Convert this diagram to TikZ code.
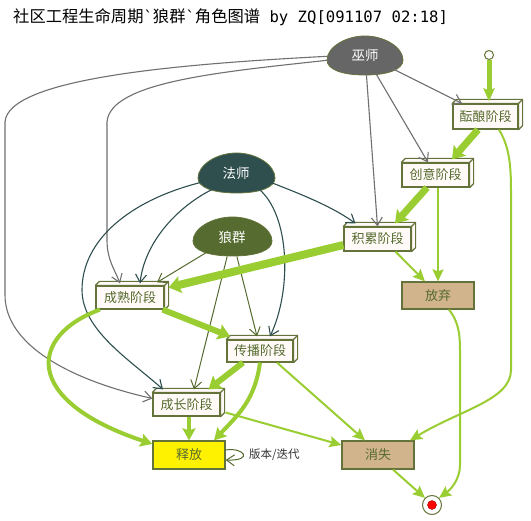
\documentclass[tikz,border=0pt]{standalone}
\usepackage{fontspec}
\newfontfamily\cjk{Noto Sans CJK SC}
\newfontfamily\mono{DejaVu Sans Mono}
\usetikzlibrary{arrows.meta,shapes.geometric,calc}
\definecolor{wgray}{HTML}{666666}
\definecolor{egray}{HTML}{707070}
\definecolor{slate}{HTML}{2F4F4F}
\definecolor{olivedk}{HTML}{556B2F}
\definecolor{boxline}{HTML}{637339}
\definecolor{boxfill}{HTML}{FFFAF7}
\definecolor{ygreen}{HTML}{9ACD32}
\definecolor{tanc}{HTML}{D2B48C}
\definecolor{lblgray}{HTML}{333333}
\newcommand\cjkT{\cjk\fontsize{16.3}{18}\selectfont}
\newcommand\monoT{\mono\fontsize{15.6}{18}\selectfont}
\newcommand\depthfaces[1]{%
  \draw[boxline, line width=1.2pt, fill=boxfill, line join=round]
    (#1.north west) -- ([shift={(4pt,4pt)}]#1.north west) -- ([shift={(4pt,4pt)}]#1.north east)
    -- ([shift={(4pt,4pt)}]#1.south east) -- (#1.south east) -- (#1.north east) -- cycle;
  \draw[boxline, line width=1.2pt] (#1.north east) -- ([shift={(4pt,4pt)}]#1.north east);}
% egg outline: center x, widest y, x radius, top height, bottom height, fill colour
\newcommand\eggshape[6]{%
  \begin{scope}[shift={(#1,#2)}]
  \filldraw[fill=#6, draw=boxline, line width=0.8pt]
    (-#3,0) .. controls (-#3,-0.52*#4) and (-0.52*#3,-#4) .. (0,-#4)
    .. controls (0.52*#3,-#4) and (#3,-0.52*#4) .. (#3,0)
    .. controls (#3,0.62*#5) and (0.62*#3,#5) .. (0,#5)
    .. controls (-0.62*#3,#5) and (-#3,0.62*#5) .. (-#3,0) -- cycle;
  \end{scope}}
\begin{document}
\begin{tikzpicture}[x=1pt,y=-1pt,
  role/.style={ellipse, inner sep=0, text=white,
    font=\cjk\fontsize{13.5}{15}\selectfont},
  stagebox/.style={rectangle, draw=boxline, line width=1.2pt, fill=boxfill, inner sep=0,
    minimum width=67pt, minimum height=24pt, text=olivedk, font=\cjk\fontsize{13}{15}\selectfont},
  flatbox/.style={rectangle, draw=boxline, line width=1.2pt, inner sep=0,
    minimum width=72pt, minimum height=28pt, text=olivedk, font=\cjk\fontsize{13}{15}\selectfont},
  grayedge/.style={draw=egray, line width=1.1pt, -{Straight Barb[length=8pt,width=11pt]}},
  slateedge/.style={draw=slate, line width=1.1pt, -{Straight Barb[length=8pt,width=11pt]}},
  oliveedge/.style={draw=olivedk, line width=1pt, -{Straight Barb[length=8pt,width=11pt]}},
  gthin/.style={draw=ygreen, line width=2pt, -{Stealth[length=12pt,width=11pt,inset=2pt]}},
  gmed/.style={draw=ygreen, line width=4pt, -{Stealth[length=12pt,width=13pt,inset=2pt]}},
  gthick/.style={draw=ygreen, line width=7pt, -{Stealth[length=12pt,width=16pt,inset=2pt]}},
]
\useasboundingbox[fill=white] (0,0) rectangle (531,521);

\node[anchor=west, inner sep=0] (title) at (13,17)
  {\cjkT 社区工程生命周期{\monoT\char96}狼群{\monoT\char96}角色图谱{\monoT\ by ZQ[091107 02:18]}};

% role eggs
\eggshape{365}{60}{38}{24}{15}{wgray}
\eggshape{236.5}{178}{38.5}{25}{15}{slate}
\eggshape{232.5}{241}{39.5}{24}{15}{olivedk}
\node[role, minimum width=76pt, minimum height=39pt] (wushi) at (365,55) {巫师};
\node[role, minimum width=77pt, minimum height=39pt] (fashi) at (236,173) {法师};
\node[role, minimum width=79pt, minimum height=39pt] (langqun) at (232,237) {狼群};

% start / end
\node[circle, draw=boxline, line width=1pt, fill=white, minimum size=9pt, inner sep=0] (start) at (489,55) {};
\node[circle, draw=boxline, line width=1pt, fill=white, minimum size=19pt, inner sep=0] (endc) at (432,505) {};
\filldraw[fill=red, draw=red!70!black, line width=0.4pt] (endc.center) circle (4.5);

% stage boxes
\node[stagebox, minimum width=65pt, minimum height=25pt] (yunniang) at (485.5,116.5) {酝酿阶段};
\depthfaces{yunniang}
\node[stagebox] (chuangyi) at (435.5,175) {创意阶段};
\depthfaces{chuangyi}
\node[stagebox] (jilei) at (377.5,239) {积累阶段};
\depthfaces{jilei}
\node[stagebox, minimum width=68pt, minimum height=23pt] (chengshu) at (130,297.5) {成熟阶段};
\depthfaces{chengshu}
\node[stagebox, minimum width=66pt, minimum height=22pt] (chuanbo) at (260,351) {传播阶段};
\depthfaces{chuanbo}
\node[stagebox, minimum height=23pt] (chengzhang) at (186.5,404.5) {成长阶段};
\depthfaces{chengzhang}

\node[flatbox, fill=tanc, minimum height=27pt] (fangqi) at (438,295.5) {放弃};
\node[flatbox, fill=yellow] (shifang) at (189,455) {释放};
\node[flatbox, fill=tanc] (xiaoshi) at (378,455) {消失};

% gray edges from 巫师
\draw[grayedge] (wushi) -- ([xshift=-23.5pt]yunniang.north);
\draw[grayedge] (wushi) -- ([xshift=-7.5pt]chuangyi.north);
\draw[grayedge] (wushi) -- (jilei.north);
\draw[grayedge] (wushi.188) .. controls (220,72) and (110,82) .. (107,122) -- (107,240)
  .. controls (107,260) and (115,270) .. ([xshift=-10pt,yshift=2pt]chengshu.north);
\draw[grayedge] (wushi.182) .. controls (180,64) and (8,78) .. (5,122) -- (5,295)
  .. controls (5,345) and (70,380) .. ([yshift=6pt]chengzhang.west);

% slate edges from 法师
\draw[slateedge] (fashi.215) .. controls (180,205) and (145,240) .. ([xshift=10pt,yshift=2pt]chengshu.north);
\draw[slateedge] (fashi.195) .. controls (130,200) and (82,240) .. (82,290)
  .. controls (82,330) and (130,360) .. ([xshift=-23.5pt,yshift=3pt]chengzhang.north);
\draw[slateedge] (fashi.-35) .. controls (290,215) and (292,290) .. ([xshift=10pt,yshift=3pt]chuanbo.north);
\draw[slateedge] (fashi.-15) .. controls (295,192) and (330,205) .. ([xshift=-22pt,yshift=3pt]jilei.north);

% olive edges from 狼群
\draw[oliveedge] (langqun) -- ([xshift=27pt,yshift=3pt]chengshu.north);
\draw[oliveedge] (langqun) -- ([xshift=7.5pt,yshift=3pt]chengzhang.north);
\draw[oliveedge] (langqun) -- ([xshift=-3pt,yshift=3pt]chuanbo.north);

% green lifecycle edges
\draw[draw=ygreen, line width=5pt, -{Stealth[length=13pt,width=11pt,inset=2pt]}] (start) -- ([yshift=2pt]start |- yunniang.north);
\draw[gthick] ([xshift=-7.5pt]yunniang.south) -- ([xshift=16.5pt,yshift=3pt]chuangyi.north);
\draw[gthick] ([xshift=-8.5pt]chuangyi.south) -- ([xshift=17.5pt,yshift=3pt]jilei.north);
\draw[gthick, line width=8pt, -{Stealth[length=12pt,width=17pt,inset=2pt]}] ([yshift=-6pt]jilei.west) -- ([xshift=4pt,yshift=10pt]chengshu.east);
\draw[gthick, line width=6pt] ([xshift=-2pt]chengshu.south east) -- ([xshift=-30pt,yshift=3pt]chuanbo.north);
\draw[gthick, line width=6pt] ([xshift=-17pt]chuanbo.south) -- ([xshift=22pt,yshift=3pt]chengzhang.north);
\draw[gmed] ([xshift=-30pt]chengshu.south) .. controls (30,335) and (20,400) .. ([yshift=11pt]shifang.west);
\draw[gmed] (chuanbo.south) .. controls (255,400) and (238,415) .. ([xshift=25pt]shifang.north);
\draw[gmed] ([xshift=2.5pt]chengzhang.south) -- (shifang.north);
\draw[gthin] (chuangyi.south -| fangqi.north) -- (fangqi.north);
\draw[gthin] ([xshift=18pt]jilei.south) -- ([xshift=-13pt]fangqi.north);
\draw[gthin] ([xshift=13.5pt]yunniang.south) .. controls (508,145) and (511,160) .. (511,190) -- (511,370)
  .. controls (511,400) and (460,410) .. ([xshift=32pt]xiaoshi.north);
\draw[gthin] ([xshift=11pt]fangqi.south) .. controls (457,320) and (460,330) .. (460,350) -- (460,465)
  .. controls (460,480) and (450,490) .. (endc.north east);
\draw[gthin] ([xshift=15pt]xiaoshi.south) -- (endc.north west);
\draw[gthin] ([xshift=5pt,yshift=-8pt]chengzhang.east) -- ([yshift=10pt]xiaoshi.west);
\draw[gthin] ([xshift=17pt]chuanbo.south) -- ([xshift=-13pt]xiaoshi.north);

% self loop
\draw[oliveedge] ([yshift=5pt]shifang.east) .. controls (244,447) and (254,461) .. ([yshift=-5pt]shifang.east);
\node[anchor=west, inner sep=0, text=lblgray, font=\cjk\fontsize{11.5}{13}\selectfont] (lbl) at (249,455) {版本/迭代};
\end{tikzpicture}
\end{document}
